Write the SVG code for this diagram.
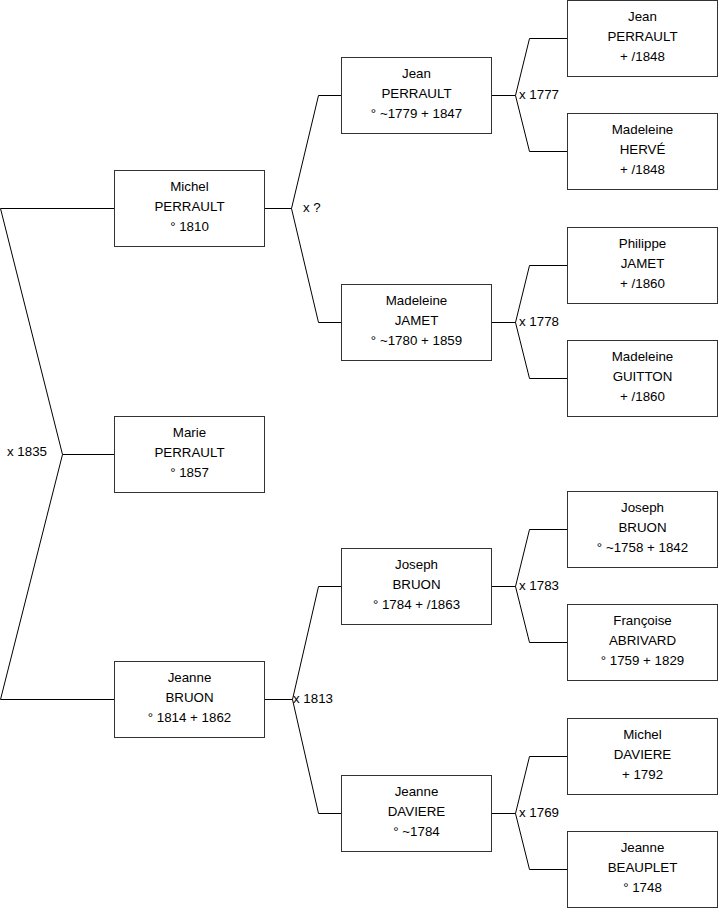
<svg xmlns="http://www.w3.org/2000/svg" width="719" height="908" viewBox="0 0 719 908">
<style>
.b{fill:#fff;stroke:#333;stroke-width:1}
.c{fill:none;stroke:#000;stroke-width:1}
text{font-family:"Liberation Sans",Arial,sans-serif;font-size:13.33px;fill:#000}
.t{text-anchor:middle}
</style>
<rect width="719" height="908" fill="#fff"/>
<g id="connectors">
<polyline class="c" points="114,208.5 0.5,208.5 62.5,454.5 0.5,699.5 114,699.5"/>
<line class="c" x1="62.5" y1="454.5" x2="114" y2="454.5"/>
<text x="7" y="455.5">x 1835</text>
<polyline class="c" points="341,95.5 318.5,95.5 291.5,208.5 318.5,322.5 341,322.5"/>
<line class="c" x1="264" y1="208.5" x2="291.5" y2="208.5"/>
<text x="303" y="212">x ?</text>
<polyline class="c" points="341,586.5 318.5,586.5 292.5,699.5 318.5,813.5 341,813.5"/>
<line class="c" x1="264" y1="699.5" x2="292.5" y2="699.5"/>
<text x="293" y="703">x 1813</text>
<polyline class="c" points="567,38.5 529.5,38.5 515.5,95.5 529.5,151.5 567,151.5"/>
<line class="c" x1="491" y1="95.5" x2="515.5" y2="95.5"/>
<text x="519" y="99">x 1777</text>
<polyline class="c" points="567,265.5 529.5,265.5 515.5,322.5 529.5,378.5 567,378.5"/>
<line class="c" x1="491" y1="322.5" x2="515.5" y2="322.5"/>
<text x="519" y="326">x 1778</text>
<polyline class="c" points="567,529.5 529.5,529.5 515.5,586.5 529.5,642.5 567,642.5"/>
<line class="c" x1="491" y1="586.5" x2="515.5" y2="586.5"/>
<text x="519" y="590">x 1783</text>
<polyline class="c" points="567,756.5 529.5,756.5 515.5,813.5 529.5,869.5 567,869.5"/>
<line class="c" x1="491" y1="813.5" x2="515.5" y2="813.5"/>
<text x="519" y="817">x 1769</text>
</g>
<g id="michel"><rect class="b" x="114.5" y="170.5" width="150" height="76"/><text class="t" x="189.5" y="190.5">Michel</text><text class="t" x="189.5" y="210.5">PERRAULT</text><text class="t" x="189.5" y="230.5">° 1810</text></g>
<g id="marie"><rect class="b" x="114.5" y="416.5" width="150" height="76"/><text class="t" x="189.5" y="436.5">Marie</text><text class="t" x="189.5" y="456.5">PERRAULT</text><text class="t" x="189.5" y="476.5">° 1857</text></g>
<g id="jeanne_bruon"><rect class="b" x="114.5" y="661.5" width="150" height="76"/><text class="t" x="189.5" y="681.5">Jeanne</text><text class="t" x="189.5" y="701.5">BRUON</text><text class="t" x="189.5" y="721.5">° 1814 + 1862</text></g>
<g id="jean_perrault"><rect class="b" x="341.5" y="57.5" width="150" height="76"/><text class="t" x="416.5" y="77.5">Jean</text><text class="t" x="416.5" y="97.5">PERRAULT</text><text class="t" x="416.5" y="117.5">° ~1779 + 1847</text></g>
<g id="madeleine_jamet"><rect class="b" x="341.5" y="284.5" width="150" height="76"/><text class="t" x="416.5" y="304.5">Madeleine</text><text class="t" x="416.5" y="324.5">JAMET</text><text class="t" x="416.5" y="344.5">° ~1780 + 1859</text></g>
<g id="joseph_bruon"><rect class="b" x="341.5" y="548.5" width="150" height="76"/><text class="t" x="416.5" y="568.5">Joseph</text><text class="t" x="416.5" y="588.5">BRUON</text><text class="t" x="416.5" y="608.5">° 1784 + /1863</text></g>
<g id="jeanne_daviere"><rect class="b" x="341.5" y="775.5" width="150" height="76"/><text class="t" x="416.5" y="795.5">Jeanne</text><text class="t" x="416.5" y="815.5">DAVIERE</text><text class="t" x="416.5" y="835.5">° ~1784</text></g>
<g id="jean_perrault_sr"><rect class="b" x="567.5" y="0.5" width="150" height="76"/><text class="t" x="642.5" y="20.5">Jean</text><text class="t" x="642.5" y="40.5">PERRAULT</text><text class="t" x="642.5" y="60.5">+ /1848</text></g>
<g id="madeleine_herve"><rect class="b" x="567.5" y="113.5" width="150" height="76"/><text class="t" x="642.5" y="133.5">Madeleine</text><text class="t" x="642.5" y="153.5">HERVÉ</text><text class="t" x="642.5" y="173.5">+ /1848</text></g>
<g id="philippe_jamet"><rect class="b" x="567.5" y="227.5" width="150" height="76"/><text class="t" x="642.5" y="247.5">Philippe</text><text class="t" x="642.5" y="267.5">JAMET</text><text class="t" x="642.5" y="287.5">+ /1860</text></g>
<g id="madeleine_guitton"><rect class="b" x="567.5" y="340.5" width="150" height="76"/><text class="t" x="642.5" y="360.5">Madeleine</text><text class="t" x="642.5" y="380.5">GUITTON</text><text class="t" x="642.5" y="400.5">+ /1860</text></g>
<g id="joseph_bruon_sr"><rect class="b" x="567.5" y="491.5" width="150" height="76"/><text class="t" x="642.5" y="511.5">Joseph</text><text class="t" x="642.5" y="531.5">BRUON</text><text class="t" x="642.5" y="551.5">° ~1758 + 1842</text></g>
<g id="francoise_abrivard"><rect class="b" x="567.5" y="604.5" width="150" height="76"/><text class="t" x="642.5" y="624.5">Françoise</text><text class="t" x="642.5" y="644.5">ABRIVARD</text><text class="t" x="642.5" y="664.5">° 1759 + 1829</text></g>
<g id="michel_daviere"><rect class="b" x="567.5" y="718.5" width="150" height="76"/><text class="t" x="642.5" y="738.5">Michel</text><text class="t" x="642.5" y="758.5">DAVIERE</text><text class="t" x="642.5" y="778.5">+ 1792</text></g>
<g id="jeanne_beauplet"><rect class="b" x="567.5" y="831.5" width="150" height="76"/><text class="t" x="642.5" y="851.5">Jeanne</text><text class="t" x="642.5" y="871.5">BEAUPLET</text><text class="t" x="642.5" y="891.5">° 1748</text></g>
</svg>
